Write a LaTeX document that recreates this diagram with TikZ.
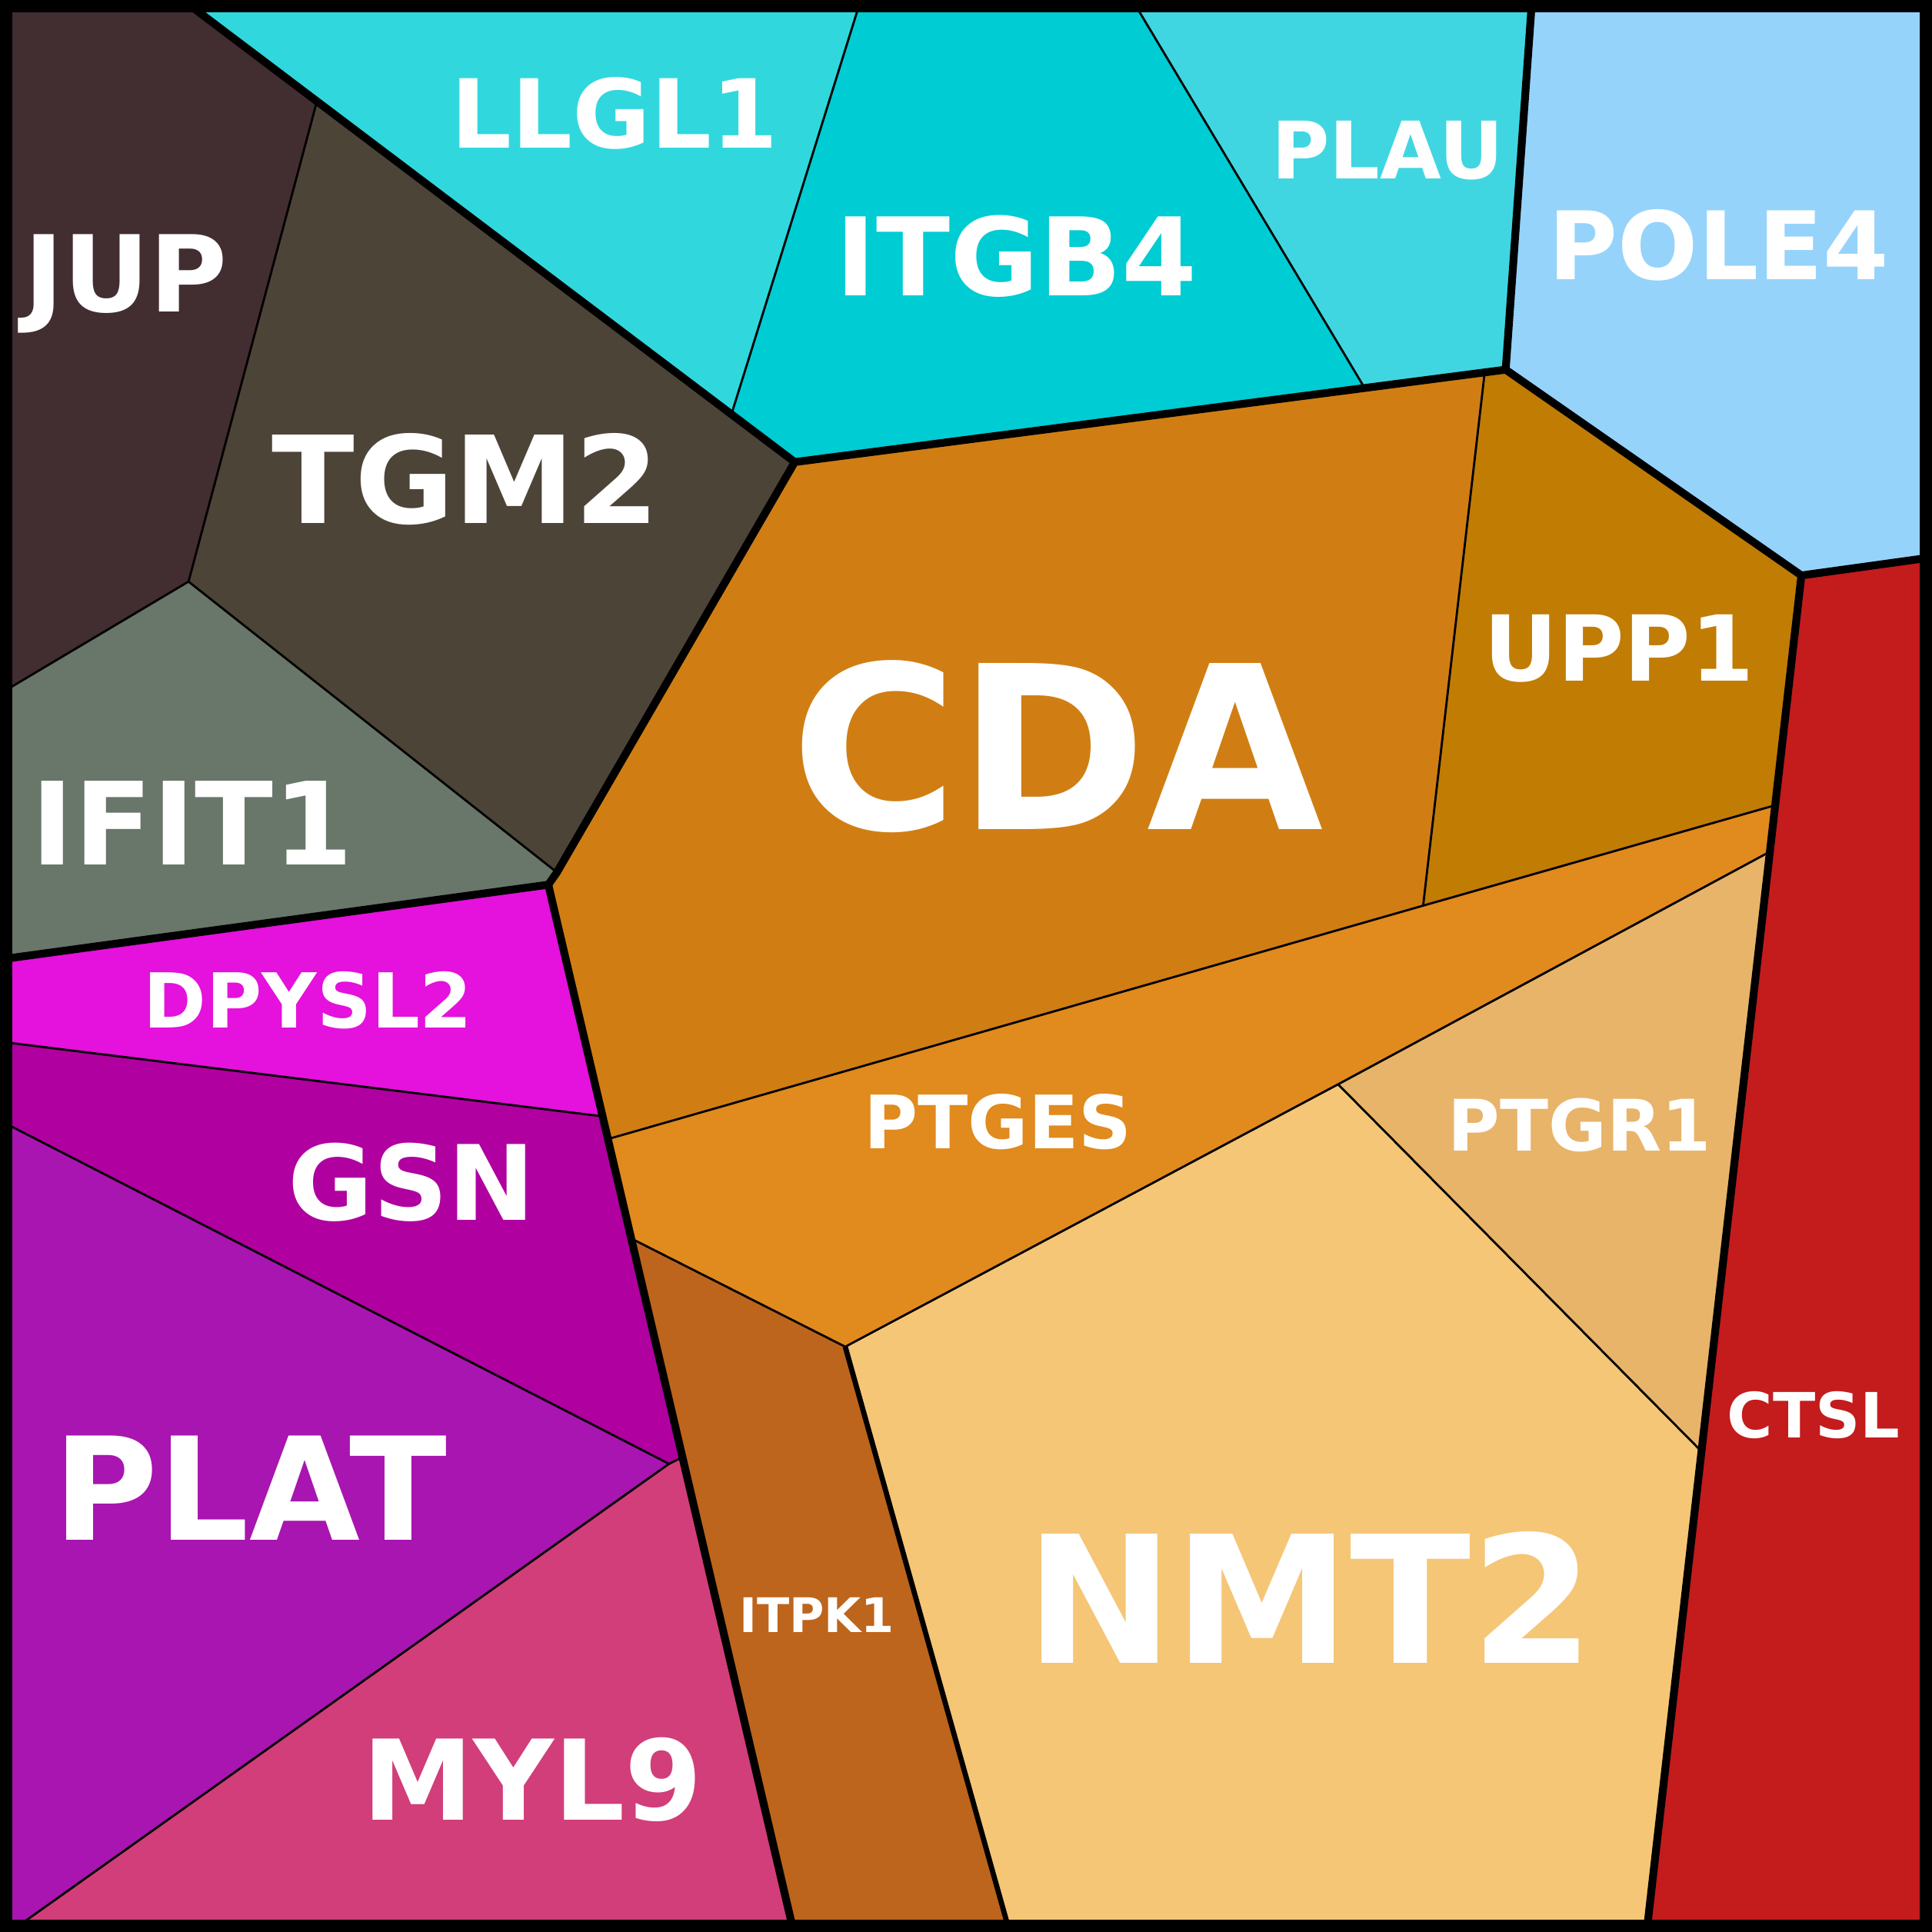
\documentclass[tikz,border=0pt]{standalone}
\usepackage{fontspec}
\setmainfont{DejaVu Sans}
\begin{document}
\begin{tikzpicture}[x=0.01cm,y=-0.01cm,
 thinb/.style={draw=black,line width=0.5pt},
 medb/.style={draw=black,line width=1.2pt},
 thickb/.style={draw=black,line width=1.8pt},
 lab/.style={text=white,font=\bfseries,anchor=base,inner sep=0pt}]
\useasboundingbox (0,0) rectangle (1568,1568);
\definecolor{cJUP}{HTML}{422D31}\definecolor{cTGM}{HTML}{4D4438}\definecolor{cIFIT}{HTML}{69766A}
\definecolor{cLLGL}{HTML}{30D8DE}\definecolor{cITGB}{HTML}{00CCD3}\definecolor{cPLAU}{HTML}{40D6E1}
\definecolor{cPOLE}{HTML}{96D3FB}\definecolor{cCDA}{HTML}{D07E13}\definecolor{cUPP}{HTML}{C17C04}
\definecolor{cCTSL}{HTML}{C41B1D}\definecolor{cPTGES}{HTML}{E18A1D}\definecolor{cPTGR}{HTML}{E8B46A}
\definecolor{cNMT}{HTML}{F5C676}\definecolor{cITPK}{HTML}{BD651C}\definecolor{cDPY}{HTML}{E511DC}
\definecolor{cGSN}{HTML}{B000A0}\definecolor{cPLAT}{HTML}{A815B0}\definecolor{cMYL}{HTML}{D13E79}
\fill[cJUP] (5,5)--(155,5)--(257,83)--(153,472)--(5,560)--cycle;
\fill[cTGM] (257,83)--(645,375)--(452,708)--(153,472)--cycle;
\fill[cIFIT] (5,560)--(153,472)--(452,708)--(445,718)--(5,778)--cycle;
\fill[cLLGL] (155,5)--(697,5)--(594,335)--(257,83)--cycle;
\fill[cITGB] (697,5)--(922,5)--(1107,314)--(645,375)--(594,335)--cycle;
\fill[cPLAU] (922,5)--(1243,5)--(1222,300)--(1107,314)--cycle;
\fill[cPOLE] (1243,5)--(1563,5)--(1563,453)--(1462,467)--(1222,300)--cycle;
\fill[cCDA] (645,375)--(1107,314)--(1205,302)--(1155,735)--(495,924)--(445,718)--(452,708)--cycle;
\fill[cUPP] (1205,302)--(1222,300)--(1462,467)--(1439,654)--(1155,735)--cycle;
\fill[cCTSL] (1462,467)--(1563,453)--(1563,1563)--(1337,1563)--(1380,1177)--(1435,692)--(1439,654)--cycle;
\fill[cPTGES] (495,924)--(1155,735)--(1439,654)--(1435,692)--(1086,880)--(686,1093)--(514,1006)--cycle;
\fill[cPTGR] (1435,692)--(1380,1177)--(1086,880)--cycle;
\fill[cNMT] (686,1093)--(1086,880)--(1380,1177)--(1337,1563)--(818,1563)--cycle;
\fill[cITPK] (514,1006)--(686,1093)--(818,1563)--(643,1563)--(553,1183)--cycle;
\fill[cDPY] (5,778)--(445,718)--(489,906)--(5,846)--cycle;
\fill[cGSN] (5,846)--(489,906)--(495,924)--(514,1006)--(553,1183)--(543,1188)--(5,912)--cycle;
\fill[cPLAT] (5,912)--(543,1188)--(15,1563)--(5,1563)--cycle;
\fill[cMYL] (15,1563)--(543,1188)--(553,1183)--(643,1563)--cycle;
% thin
\draw[thinb] (257,83)--(153,472)--(5,560);
\draw[thinb] (153,472)--(452,708);
\draw[thinb] (697,5)--(594,335);
\draw[thinb] (922,5)--(1107,314);
\draw[thinb] (1205,302)--(1155,735);
\draw[thinb] (495,924)--(1155,735)--(1439,654);
\draw[thinb] (1435,692)--(1086,880)--(686,1093)--(514,1006);
\draw[thinb] (1086,880)--(1380,1177);
\draw[thinb] (5,846)--(489,906);
\draw[thinb] (5,912)--(543,1188)--(15,1563);
\draw[thinb] (543,1188)--(553,1183);
\draw[medb] (686,1093)--(818,1563);
% thick
\draw[thickb] (155,5)--(645,375)--(452,708)--(445,718)--(5,778);
\draw[thickb] (445,718)--(643,1563);
\draw[thickb] (645,375)--(1222,300)--(1243,5);
\draw[thickb] (1222,300)--(1462,467)--(1563,453);
\draw[thickb] (1462,467)--(1337,1563);
\draw[draw=black,line width=3pt] (5,5) rectangle (1563,1563);
% labels
\node[lab,font=\bfseries\fontsize{52.6}{60}\selectfont] (lCDA) at (858,673) {CDA};
\node[lab,font=\bfseries\fontsize{40.9}{48}\selectfont] (lNMT) at (1063,1350) {NMT2};
\node[lab,font=\bfseries\fontsize{33}{40}\selectfont] (lPLAT) at (203,1250) {PLAT};
\node[lab,font=\bfseries\fontsize{28}{34}\selectfont] (lTGM) at (378,425) {TGM2};
\node[lab,font=\bfseries\fontsize{26.5}{32}\selectfont] (lIFIT) at (156,702) {IFIT1};
\node[lab,font=\bfseries\fontsize{25}{30}\selectfont] (lITGB) at (825,240) {ITGB4};
\node[lab,font=\bfseries\fontsize{24.5}{30}\selectfont] (lJUP) at (102,253) {JUP};
\node[lab,font=\bfseries\fontsize{21.8}{26}\selectfont] (lPOLE) at (1395,227) {POLE4};
\node[lab,font=\bfseries\fontsize{21}{26}\selectfont] (lUPP) at (1314,553) {UPP1};
\node[lab,font=\bfseries\fontsize{25.7}{30}\selectfont] (lMYL) at (432,1477) {MYL9};
\node[lab,font=\bfseries\fontsize{24}{30}\selectfont] (lGSN) at (334,990) {GSN};
\node[lab,font=\bfseries\fontsize{22}{26}\selectfont] (lLLGL) at (499,120) {LLGL1};
\node[lab,font=\bfseries\fontsize{18.3}{22}\selectfont] (lPLAU) at (1126,145) {PLAU};
\node[lab,font=\bfseries\fontsize{17.5}{21}\selectfont] (lDPY) at (250,834) {DPYSL2};
\node[lab,font=\bfseries\fontsize{17}{21}\selectfont] (lPTGES) at (810,932) {PTGES};
\node[lab,font=\bfseries\fontsize{16.4}{20}\selectfont] (lPTGR) at (1282,934) {PTGR1};
\node[lab,font=\bfseries\fontsize{14.4}{18}\selectfont] (lCTSL) at (1472,1167) {CTSL};
\node[lab,font=\bfseries\fontsize{11}{14}\selectfont] (lITPK) at (663,1325) {ITPK1};
\end{tikzpicture}
\end{document}
